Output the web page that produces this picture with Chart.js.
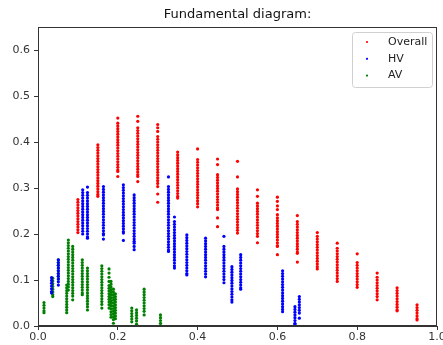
<!DOCTYPE html>
<html>
<head>
<meta charset="utf-8">
<script src="https://cdn.jsdelivr.net/npm/chart.js@4"></script>
<style>
  html, body { margin: 0; padding: 0; background: #fff; }
  #wrap { width: 443px; height: 345px; }
</style>
</head>
<body>
<div id="wrap"><canvas id="chart-scatter"></canvas></div>
<script>
// Overall: one vertical streak per density value
var overallX = [0.10, 0.15, 0.20, 0.25, 0.30, 0.35, 0.40, 0.45, 0.50, 0.55, 0.60, 0.65, 0.70, 0.75, 0.80, 0.85, 0.90, 0.95];
var overallY = [
  [0.275, 0.269, 0.263, 0.257, 0.251, 0.245, 0.239, 0.233, 0.227, 0.221, 0.215, 0.209, 0.203],
  [0.394, 0.388, 0.382, 0.376, 0.370, 0.364, 0.358, 0.352, 0.346, 0.340, 0.334, 0.328, 0.322, 0.316, 0.310, 0.304, 0.298, 0.292, 0.286, 0.282],
  [0.452, 0.441, 0.435, 0.429, 0.423, 0.417, 0.411, 0.405, 0.399, 0.393, 0.387, 0.381, 0.375, 0.369, 0.363, 0.357, 0.351, 0.345, 0.339, 0.336, 0.325],
  [0.456, 0.445, 0.431, 0.425, 0.419, 0.413, 0.407, 0.401, 0.395, 0.389, 0.383, 0.377, 0.371, 0.365, 0.359, 0.353, 0.347, 0.341, 0.335, 0.329, 0.325, 0.314],
  [0.438, 0.431, 0.423, 0.412, 0.406, 0.400, 0.394, 0.388, 0.382, 0.376, 0.370, 0.364, 0.358, 0.352, 0.346, 0.340, 0.334, 0.328, 0.322, 0.316, 0.310, 0.303, 0.287, 0.269],
  [0.378, 0.372, 0.366, 0.360, 0.354, 0.348, 0.342, 0.336, 0.330, 0.324, 0.318, 0.312, 0.306, 0.300, 0.294, 0.288, 0.282, 0.278],
  [0.385, 0.362, 0.356, 0.350, 0.344, 0.338, 0.332, 0.326, 0.320, 0.314, 0.308, 0.302, 0.296, 0.290, 0.284, 0.278, 0.272, 0.266, 0.259],
  [0.363, 0.351, 0.329, 0.323, 0.317, 0.311, 0.305, 0.299, 0.293, 0.287, 0.281, 0.275, 0.269, 0.263, 0.257, 0.253, 0.235, 0.216],
  [0.358, 0.324, 0.298, 0.292, 0.286, 0.280, 0.274, 0.268, 0.262, 0.256, 0.250, 0.244, 0.238, 0.232, 0.226, 0.220, 0.214, 0.208, 0.202],
  [0.296, 0.282, 0.267, 0.261, 0.255, 0.249, 0.243, 0.237, 0.231, 0.225, 0.219, 0.213, 0.207, 0.201, 0.195, 0.181],
  [0.280, 0.271, 0.261, 0.253, 0.242, 0.235, 0.229, 0.223, 0.217, 0.211, 0.205, 0.199, 0.193, 0.187, 0.181, 0.175, 0.173, 0.155],
  [0.240, 0.227, 0.221, 0.215, 0.209, 0.203, 0.197, 0.191, 0.185, 0.179, 0.173, 0.167, 0.161, 0.158, 0.139],
  [0.203, 0.195, 0.189, 0.183, 0.177, 0.171, 0.165, 0.159, 0.153, 0.147, 0.141, 0.135, 0.129, 0.124],
  [0.180, 0.169, 0.163, 0.157, 0.151, 0.145, 0.139, 0.133, 0.127, 0.121, 0.115, 0.109, 0.103, 0.097],
  [0.157, 0.138, 0.132, 0.126, 0.120, 0.114, 0.108, 0.102, 0.096, 0.090, 0.084],
  [0.115, 0.106, 0.100, 0.094, 0.088, 0.082, 0.076, 0.070, 0.064, 0.057],
  [0.083, 0.077, 0.071, 0.065, 0.059, 0.053, 0.047, 0.041, 0.035, 0.033],
  [0.046, 0.040, 0.034, 0.028, 0.022, 0.016, 0.013]
];

// HV
var hvX = [0.034, 0.051, 0.112, 0.124, 0.164, 0.214, 0.241, 0.327, 0.342, 0.373, 0.420, 0.466, 0.486, 0.508, 0.613, 0.644, 0.655];
var hvY = [
  [0.105, 0.099, 0.093, 0.087, 0.081, 0.075, 0.072],
  [0.144, 0.138, 0.132, 0.126, 0.120, 0.114, 0.108, 0.102, 0.096, 0.089],
  [0.296, 0.290, 0.284, 0.278, 0.272, 0.266, 0.260, 0.254, 0.248, 0.242, 0.236, 0.230, 0.224, 0.218, 0.212, 0.206, 0.200],
  [0.302, 0.290, 0.284, 0.278, 0.272, 0.266, 0.260, 0.254, 0.248, 0.242, 0.236, 0.230, 0.224, 0.218, 0.212, 0.206, 0.200, 0.194, 0.191],
  [0.303, 0.297, 0.291, 0.285, 0.279, 0.273, 0.267, 0.261, 0.255, 0.249, 0.243, 0.237, 0.231, 0.225, 0.219, 0.213, 0.207, 0.201, 0.198, 0.189],
  [0.307, 0.301, 0.295, 0.289, 0.283, 0.277, 0.271, 0.265, 0.259, 0.253, 0.247, 0.241, 0.235, 0.229, 0.223, 0.217, 0.211, 0.205, 0.202, 0.186],
  [0.285, 0.279, 0.273, 0.267, 0.261, 0.255, 0.249, 0.243, 0.237, 0.231, 0.225, 0.219, 0.213, 0.207, 0.201, 0.195, 0.189, 0.184, 0.180, 0.173, 0.166],
  [0.324, 0.303, 0.297, 0.291, 0.285, 0.279, 0.273, 0.267, 0.261, 0.255, 0.249, 0.243, 0.237, 0.231, 0.225, 0.219, 0.213, 0.207, 0.201, 0.195, 0.189, 0.183, 0.177, 0.171, 0.165, 0.162],
  [0.237, 0.227, 0.221, 0.215, 0.209, 0.203, 0.197, 0.191, 0.185, 0.179, 0.173, 0.167, 0.161, 0.155, 0.149, 0.143, 0.137, 0.131, 0.126],
  [0.198, 0.192, 0.186, 0.180, 0.174, 0.168, 0.162, 0.156, 0.150, 0.144, 0.138, 0.132, 0.126, 0.120, 0.114, 0.111],
  [0.191, 0.185, 0.179, 0.173, 0.167, 0.161, 0.155, 0.149, 0.143, 0.137, 0.131, 0.125, 0.119, 0.113, 0.107],
  [0.195, 0.173, 0.167, 0.161, 0.155, 0.149, 0.143, 0.137, 0.131, 0.125, 0.119, 0.113, 0.107, 0.101, 0.094],
  [0.129, 0.123, 0.117, 0.111, 0.105, 0.099, 0.093, 0.087, 0.081, 0.075, 0.069, 0.063, 0.057, 0.052],
  [0.155, 0.149, 0.143, 0.137, 0.131, 0.125, 0.119, 0.113, 0.107, 0.101, 0.095, 0.089, 0.083, 0.080],
  [0.120, 0.114, 0.108, 0.102, 0.096, 0.090, 0.084, 0.078, 0.072, 0.066, 0.060, 0.054, 0.048, 0.042, 0.036, 0.031],
  [0.042, 0.036, 0.030, 0.024, 0.018, 0.012, 0.006, 0.004],
  [0.064, 0.058, 0.052, 0.046, 0.040, 0.034, 0.028, 0.017]
];

// AV
var avX = [0.015, 0.037, 0.051, 0.072, 0.076, 0.087, 0.111, 0.124, 0.160, 0.178, 0.183, 0.189, 0.194, 0.235, 0.247, 0.266, 0.307];
var avY = [
  [0.051, 0.045, 0.039, 0.033, 0.029],
  [0.104, 0.098, 0.092, 0.086, 0.080, 0.074, 0.068, 0.064],
  [0.144, 0.138, 0.132, 0.126, 0.120, 0.114, 0.108, 0.102],
  [0.089, 0.083, 0.077, 0.071, 0.065, 0.059, 0.053, 0.047, 0.041, 0.035, 0.029],
  [0.187, 0.181, 0.175, 0.169, 0.163, 0.157, 0.151, 0.145, 0.139, 0.133, 0.127, 0.121, 0.115, 0.109, 0.103, 0.097, 0.091, 0.085, 0.078],
  [0.173, 0.167, 0.161, 0.155, 0.149, 0.143, 0.137, 0.131, 0.125, 0.119, 0.113, 0.107, 0.101, 0.095, 0.089, 0.083, 0.077, 0.071, 0.065, 0.057],
  [0.144, 0.138, 0.132, 0.126, 0.120, 0.114, 0.108, 0.102, 0.096, 0.090, 0.084, 0.078, 0.072, 0.068],
  [0.126, 0.120, 0.114, 0.108, 0.102, 0.096, 0.090, 0.084, 0.078, 0.072, 0.066, 0.060, 0.054, 0.048, 0.042, 0.035],
  [0.131, 0.125, 0.119, 0.113, 0.107, 0.101, 0.095, 0.089, 0.083, 0.077, 0.071, 0.065, 0.059, 0.053, 0.047, 0.039],
  [0.124, 0.115, 0.106, 0.097, 0.088, 0.082, 0.076, 0.070, 0.064, 0.058, 0.052, 0.046, 0.039],
  [0.097, 0.091, 0.085, 0.079, 0.073, 0.067, 0.061, 0.055, 0.049, 0.043, 0.037, 0.031, 0.025, 0.019],
  [0.080, 0.074, 0.068, 0.062, 0.056, 0.050, 0.044, 0.038, 0.032, 0.026, 0.020, 0.014, 0.006],
  [0.070, 0.064, 0.058, 0.052, 0.046, 0.040, 0.034, 0.028, 0.022, 0.016],
  [0.039, 0.033, 0.027, 0.021, 0.015, 0.009],
  [0.035, 0.029, 0.023, 0.017, 0.011, 0.004],
  [0.080, 0.074, 0.068, 0.062, 0.056, 0.050, 0.044, 0.038, 0.032, 0.024],
  [0.024, 0.018, 0.012, 0.006, 0.001]
];

var xTicks = [0.0, 0.2, 0.4, 0.6, 0.8, 1.0];
var yTicks = [0.0, 0.1, 0.2, 0.3, 0.4, 0.5, 0.6];

function toPoints(xs, ys) {
  var pts = [];
  xs.forEach(function (x, i) {
    ys[i].forEach(function (y) { pts.push({ x: x, y: y }); });
  });
  return pts;
}

var fontFamily = "'DejaVu Sans', sans-serif";

// box around the axes + legend in upper right, matplotlib style
var frameAndLegend = {
  id: 'frameAndLegend',
  afterDraw: function (chart) {
    var c = chart.ctx, a = chart.chartArea;
    c.save();
    c.strokeStyle = '#333';
    c.lineWidth = 1;
    c.strokeRect(Math.round(a.left) + 0.5, Math.round(a.top) + 0.5, Math.round(a.right - a.left) - 1, Math.round(a.bottom - a.top) - 1);

    var bx = 352, by = 32, bw = 80, bh = 55;
    c.beginPath();
    c.roundRect(bx + 0.5, by + 0.5, bw, bh, 3);
    c.fillStyle = 'rgba(255,255,255,0.8)';
    c.fill();
    c.strokeStyle = '#d0d0d0';
    c.stroke();

    c.font = '11px ' + fontFamily;
    c.textBaseline = 'middle';
    c.textAlign = 'left';
    chart.data.datasets.forEach(function (ds, i) {
      var ry = 42 + i * 16.8;
      c.fillStyle = ds.backgroundColor;
      c.beginPath();
      c.arc(367, ry, 1.1, 0, Math.PI * 2);
      c.fill();
      c.fillStyle = '#222';
      c.fillText(ds.label, 388, ry);
    });
    c.restore();
  }
};

var ctx = document.getElementById('chart-scatter').getContext('2d');
new Chart(ctx, {
  type: 'scatter',
  data: {
    datasets: [
      {
        label: 'Overall',
        data: toPoints(overallX, overallY),
        backgroundColor: '#ff0000',
        pointRadius: 1.6,
        pointBorderWidth: 0,
      },
      {
        label: 'HV',
        data: toPoints(hvX, hvY),
        backgroundColor: '#0000ff',
        pointRadius: 1.6,
        pointBorderWidth: 0,
      },
      {
        label: 'AV',
        data: toPoints(avX, avY),
        backgroundColor: '#008000',
        pointRadius: 1.6,
        pointBorderWidth: 0,
      },
    ]
  },
  options: {
    responsive: true,
    maintainAspectRatio: false,
    animation: false,
    layout: {
      padding: { left: 0, right: 6, top: 0, bottom: 0 }
    },
    plugins: {
      legend: { display: false },
      tooltip: { enabled: false },
      title: {
        display: true,
        text: 'Fundamental diagram:',
        fullSize: false,
        color: '#111',
        font: { size: 13, family: fontFamily, weight: 'normal', lineHeight: 1.2 },
        padding: { top: 7.2, bottom: 4.2 }
      }
    },
    scales: {
      x: {
        type: 'linear',
        min: 0,
        max: 1,
        afterBuildTicks: function (scale) {
          scale.ticks = xTicks.map(function (v) { return { value: v }; });
        },
        afterFit: function (scale) {
          scale.height = 19;
          scale.paddingLeft = 0;
          scale.paddingRight = 0;
        },
        grid: {
          drawOnChartArea: false,
          drawTicks: true,
          tickLength: 4,
          color: '#333',
        },
        border: { display: true, color: '#333' },
        ticks: {
          padding: 1,
          color: '#333',
          maxRotation: 0,
          font: { size: 11, family: fontFamily },
          callback: function (v) { return v.toFixed(1); }
        }
      },
      y: {
        type: 'linear',
        min: 0,
        max: 0.65,
        afterBuildTicks: function (scale) {
          scale.ticks = yTicks.map(function (v) { return { value: v }; });
        },
        afterFit: function (scale) {
          scale.width = 38;
          scale.paddingTop = 0;
          scale.paddingBottom = 0;
        },
        grid: {
          drawOnChartArea: false,
          drawTicks: true,
          tickLength: 4,
          color: '#333',
        },
        border: { display: true, color: '#333' },
        ticks: {
          padding: 4,
          color: '#333',
          font: { size: 11, family: fontFamily },
          callback: function (v) { return v.toFixed(1); }
        }
      }
    }
  },
  plugins: [frameAndLegend]
});
</script>
</body>
</html>
